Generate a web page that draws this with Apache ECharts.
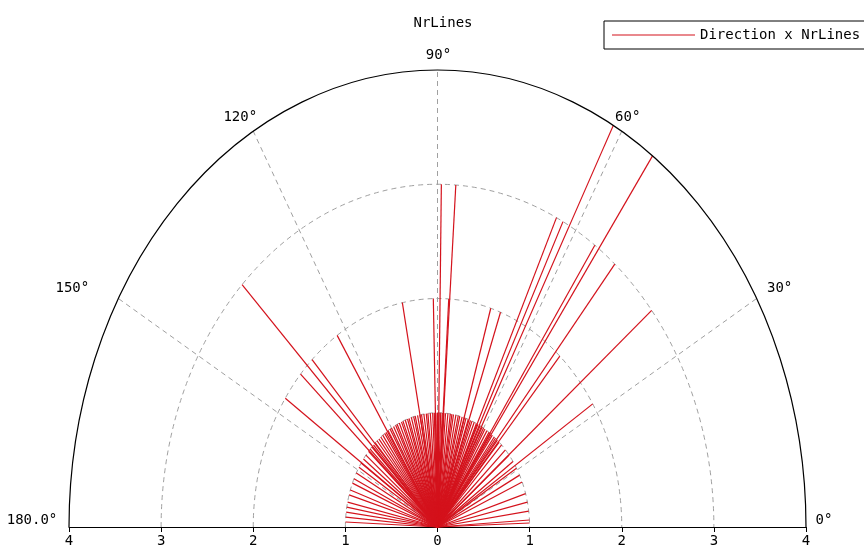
<!DOCTYPE html>
<html><head><meta charset="utf-8">
<script src="https://cdn.jsdelivr.net/npm/echarts@6/dist/echarts.min.js"></script>
<style>html,body{margin:0;padding:0;background:#fff}#c{width:864px;height:559px}</style>
</head><body><div id="c"></div>
<script>
// ---- data ----
const chartTitle = 'NrLines';
const seriesName = 'Direction x NrLines';
// directions (degrees) grouped by their NrLines value
const nrLinesValues = [4, 3, 2, 1];
const directionsNr4 = [61.5, 54.3];
const directionsNr3 = [89.2, 86.2, 64.5, 63, 55.3, 50.1, 39.2, 135];
const directionsNr2 = [101, 91.3, 86.5, 73.2, 70, 48.4, 32.6, 123, 132.9, 138, 145.7];
const directionsNr1 = [
  2, 3.5, 8, 12.6, 17, 23.2, 27, 31, 35, 39, 42.5, 45.9,
  48, 49.5, 51, 52, 53.5, 55, 56, 57.5, 59, 60, 61, 62.5, 64, 65, 66.5, 68, 69, 70.5,
  72, 73, 74.5, 76, 77, 78.5, 80, 81, 82, 83.5, 85, 86, 87, 88, 89, 90, 91, 92, 93,
  94.5, 96, 97, 98.5, 100, 101, 102.5, 104, 105, 106.5, 108, 109, 110.5, 112, 113,
  114.5, 116, 117, 118.5, 120, 121, 122.5, 124, 125, 126.5, 128, 129.5, 131, 132.5,
  134, 135.5, 137, 138.5,
  141, 143.5, 146, 148.5, 151.8, 155, 157.4, 161.1, 163.7, 167.4, 170, 172.5, 175, 177.5
];
const radiusTickLabels = ['4', '3', '2', '1', '0', '1', '2', '3', '4'];
const ringRadii = [1, 2, 3];
const outerRadius = [4];
const spokeAngles = [30, 60, 90, 120, 150];
const angleLabelAngles = [0, 30, 60, 90, 120, 150, 180];
const angleLabelTexts = ['0°', '30°', '60°', '90°', '120°', '150°', '180.0°'];

// ---- build ray data [direction, nrLines] ----
const directionGroups = [directionsNr4, directionsNr3, directionsNr2, directionsNr1];
const rayData = [];
directionGroups.forEach(function (group, gi) {
  group.forEach(function (d) { rayData.push([d, nrLinesValues[gi]]); });
});

// ---- rendering ----
const FONT = 'DejaVu Sans Mono';
const RAY_COLOR = '#d4121c';
const labelOffsets = {0: [18, -7], 30: [23, -10], 60: [6, -14], 90: [1, -15], 120: [-13, -14], 150: [-46, -10], 180: [-37, -7]};

function ellipsePath(api, r) {
  const c = api.coord([0, 0]);
  const rx = api.size([r, 0])[0];
  const ry = api.size([0, r])[1];
  return 'M ' + (c[0] - rx) + ' ' + c[1] + ' A ' + rx + ' ' + ry + ' 0 0 1 ' + (c[0] + rx) + ' ' + c[1];
}
function polarPoint(api, deg, r) {
  const t = deg * Math.PI / 180;
  return api.coord([r * Math.cos(t), r * Math.sin(t)]);
}

const chart = echarts.init(document.getElementById('c'), null, {renderer: 'canvas'});
chart.setOption({
  backgroundColor: '#ffffff',
  animation: false,
  title: {
    text: chartTitle, left: 438, top: 11, textAlign: 'center',
    textStyle: {fontFamily: FONT, fontSize: 14, fontWeight: 'normal', color: '#000'}
  },
  legend: {
    data: [seriesName], left: 604, top: 21,
    orient: 'horizontal',
    padding: [7, 14, 7, 8],
    borderColor: '#000', borderWidth: 1, backgroundColor: '#fff',
    itemWidth: 83, itemHeight: 1, icon: 'rect',
    textStyle: {fontFamily: FONT, fontSize: 14, color: '#000'}
  },
  grid: {left: 69, right: 58, top: 70, bottom: 32},
  xAxis: {
    type: 'value', min: -4, max: 4, interval: 1,
    axisLine: {show: true, onZero: false, lineStyle: {color: '#000', width: 1.2}},
    axisTick: {show: true, length: 5, lineStyle: {color: '#000'}},
    axisLabel: {margin: 7, fontFamily: FONT, fontSize: 14, color: '#000',
      formatter: function (v) { return radiusTickLabels[Math.round(v) + 4]; }},
    splitLine: {show: false}
  },
  yAxis: {type: 'value', min: 0, max: 4, show: false},
  series: [
    {
      type: 'custom', name: 'rings', silent: true, z: 1, clip: false,
      data: ringRadii.map(function (r) { return [r, 0]; }),
      renderItem: function (params, api) {
        return {type: 'path', shape: {pathData: ellipsePath(api, api.value(0))},
          style: {fill: 'none', stroke: '#a0a0a0', lineWidth: 1, lineDash: [5, 4]}};
      }
    },
    {
      type: 'custom', name: 'spokes', silent: true, z: 1, clip: false,
      data: spokeAngles.map(function (a) { return [a, 0]; }),
      renderItem: function (params, api) {
        const p0 = api.coord([0, 0]);
        const p1 = polarPoint(api, api.value(0), outerRadius[0]);
        return {type: 'line', shape: {x1: p0[0], y1: p0[1], x2: p1[0], y2: p1[1]},
          style: {stroke: '#a0a0a0', lineWidth: 1, lineDash: [5, 4]}};
      }
    },
    {
      type: 'custom', name: seriesName, z: 3, clip: false,
      itemStyle: {color: RAY_COLOR},
      data: rayData,
      renderItem: function (params, api) {
        const p0 = api.coord([0, 0]);
        const p1 = polarPoint(api, api.value(0), api.value(1));
        return {type: 'line', shape: {x1: p0[0], y1: p0[1], x2: p1[0], y2: p1[1]},
          style: {stroke: RAY_COLOR, lineWidth: 1.2}};
      }
    },
    {
      type: 'custom', name: 'outer', silent: true, z: 4, clip: false,
      data: outerRadius.map(function (r) { return [r, 0]; }),
      renderItem: function (params, api) {
        return {type: 'path', shape: {pathData: ellipsePath(api, api.value(0))},
          style: {fill: 'none', stroke: '#000', lineWidth: 1.2}};
      }
    },
    {
      type: 'custom', name: 'angleLabels', silent: true, z: 5, clip: false,
      data: angleLabelAngles.map(function (a) { return [a, 0]; }),
      renderItem: function (params, api) {
        const a = api.value(0);
        const p = polarPoint(api, a, outerRadius[0]);
        const off = labelOffsets[a];
        return {type: 'text', x: p[0] + off[0], y: p[1] + off[1],
          style: {text: angleLabelTexts[params.dataIndex], fill: '#000', font: '14px "' + FONT + '"',
            textAlign: 'center', textVerticalAlign: 'middle'}};
      }
    }
  ]
});
</script>
</body></html>
